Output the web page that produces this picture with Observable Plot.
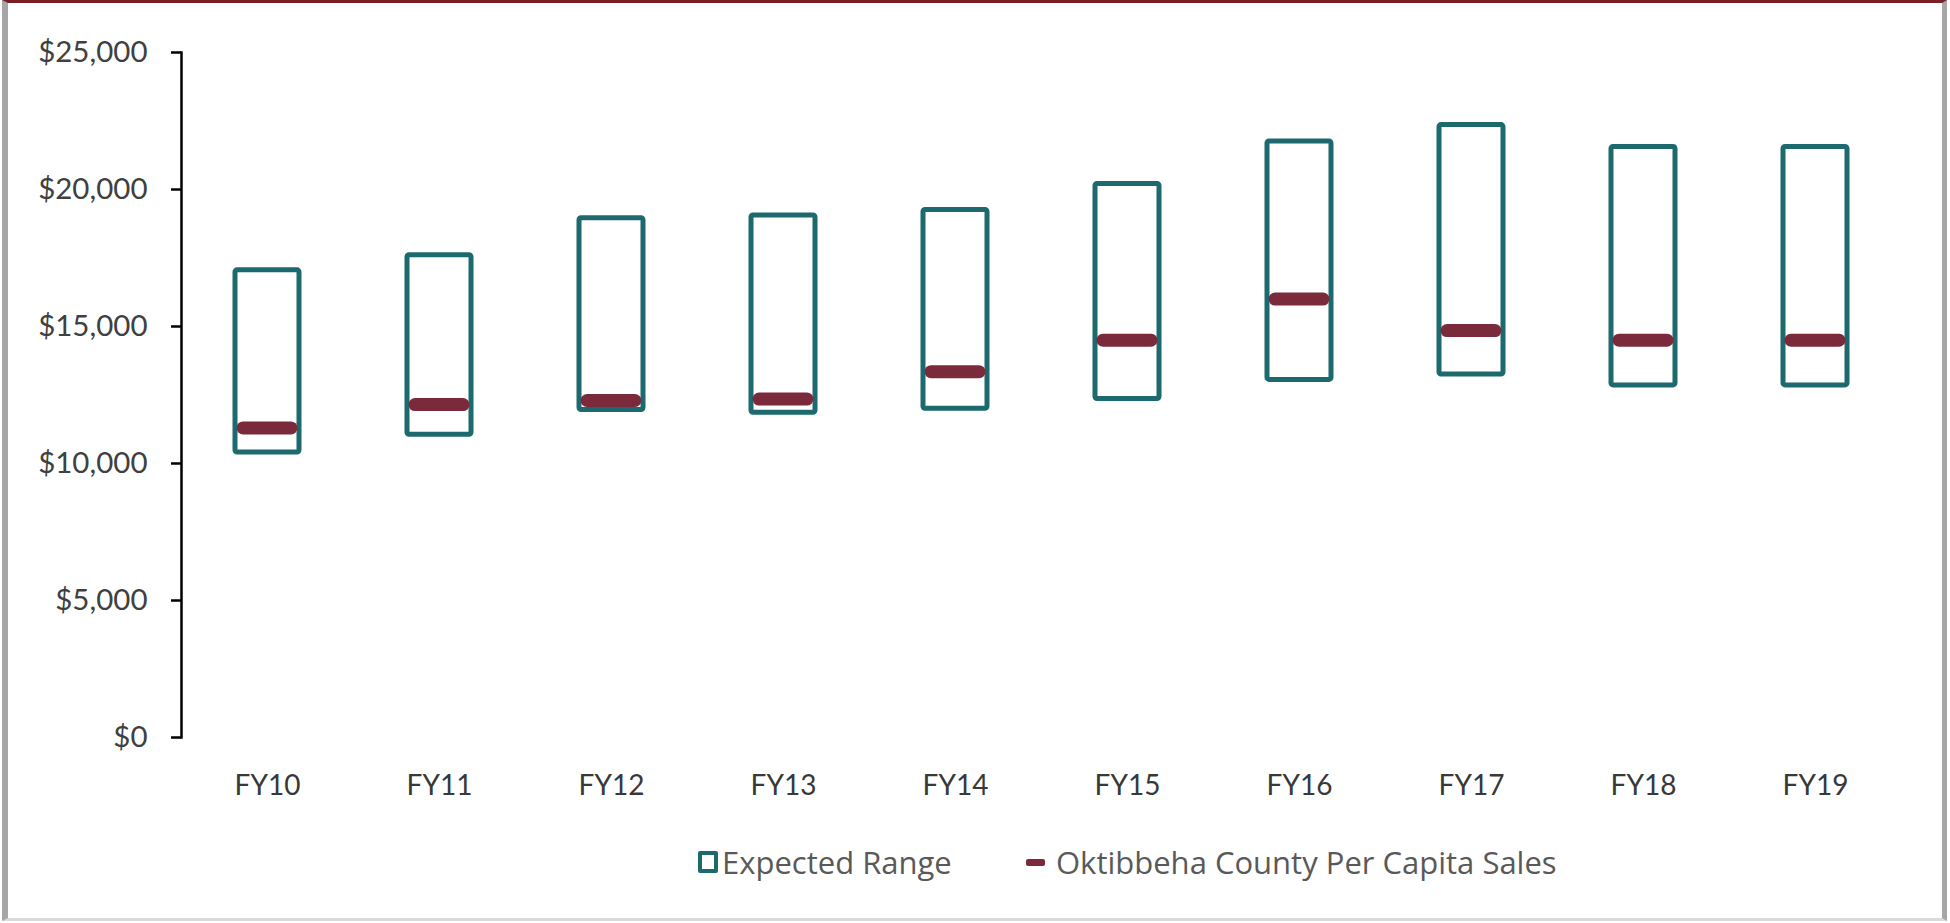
<!DOCTYPE html>
<html>
<head>
<meta charset="utf-8">
<script src="https://cdn.jsdelivr.net/npm/d3@7"></script>
<script src="https://cdn.jsdelivr.net/npm/@observablehq/plot@0.6"></script>
<style>
  html, body { margin: 0; padding: 0; background: #fff; }
  #wrap { position: relative; width: 1950px; height: 923px; overflow: hidden; background: #fff; font-family: Lato, "Open Sans", sans-serif; }
  #frame { position: absolute; left: 2px; top: 0; width: 1945px; height: 921px; box-sizing: border-box;
           border-top: 3px solid #7a1f26; border-left: 6px solid #a6a6a6; border-right: 5px solid #a6a6a6; border-bottom: 3px solid #dadada; pointer-events: none; }
  #chart { position: absolute; left: 0; top: 0; }
  #legend { position: absolute; top: 842px; left: 0; width: 1950px; height: 40px; font-size: 31px; color: #595959; font-family: "Open Sans", Lato, sans-serif; }
  .item { position: absolute; top: 0; display: flex; align-items: center; height: 40px; }
  .sw-box { width: 12px; height: 14px; border: 4px solid #1d6a6e; border-radius: 2px; margin-right: 4px; }
  .sw-dash { width: 19px; height: 7px; background: #7b2a3c; border-radius: 2px; margin-right: 11px; }
</style>
</head>
<body>
<div id="wrap">
  <div id="chart"></div>
  <div id="legend">
    <div class="item" style="left:698px"><div class="sw-box"></div><span>Expected Range</span></div>
    <div class="item" style="left:1026px"><div class="sw-dash"></div><span>Oktibbeha County Per Capita Sales</span></div>
  </div>
  <div id="frame"></div>
</div>
<script>
const categories = ["FY10", "FY11", "FY12", "FY13", "FY14", "FY15", "FY16", "FY17", "FY18", "FY19"];
const rangeLow  = [10400, 11050, 11950, 11850, 12000, 12350, 13050, 13250, 12850, 12850];
const rangeHigh = [17050, 17600, 18950, 19050, 19250, 20200, 21750, 22350, 21550, 21550];
const perCapitaSales = [11300, 12150, 12300, 12350, 13350, 14500, 16000, 14850, 14500, 14500];
const yTicks = [0, 5000, 10000, 15000, 20000, 25000];

const rows = categories.map((c, i) => ({fy: c, low: rangeLow[i], high: rangeHigh[i], sales: perCapitaSales[i]}));
const fmt = d => "$" + d3.format(",")(d);

const chart = Plot.plot({
  width: 1950,
  height: 810,
  marginLeft: 181,
  marginRight: 49,
  marginTop: 52,
  marginBottom: 73,
  style: {fontFamily: "Lato, 'Open Sans', sans-serif", fontSize: "28px", background: "transparent"},
  x: {domain: categories, padding: 0, label: null},
  y: {domain: [0, 25000], label: null},
  marks: [
    Plot.frame({anchor: "left", stroke: "#000", strokeWidth: 2.5}),
    Plot.axisY({ticks: yTicks, tickFormat: fmt, tickSize: 10, tickPadding: 24, stroke: "#000", strokeWidth: 2.5, fill: "#404040", fontSize: 29.5, label: null}),
    Plot.axisX({tickSize: 0, tickPadding: 38, fill: "#383838", label: null}),
    Plot.barY(rows, {x: "fy", y1: "low", y2: "high", fill: "#fff", stroke: "#1d6a6e", strokeWidth: 5, insetLeft: 54, insetRight: 54, rx: 2}),
    Plot.tickY(rows, {x: "fy", y: "sales", stroke: "#7b2a3c", strokeWidth: 13, strokeLinecap: "round", insetLeft: 62, insetRight: 62})
  ]
});
document.getElementById("chart").appendChild(chart);
</script>
</body>
</html>
